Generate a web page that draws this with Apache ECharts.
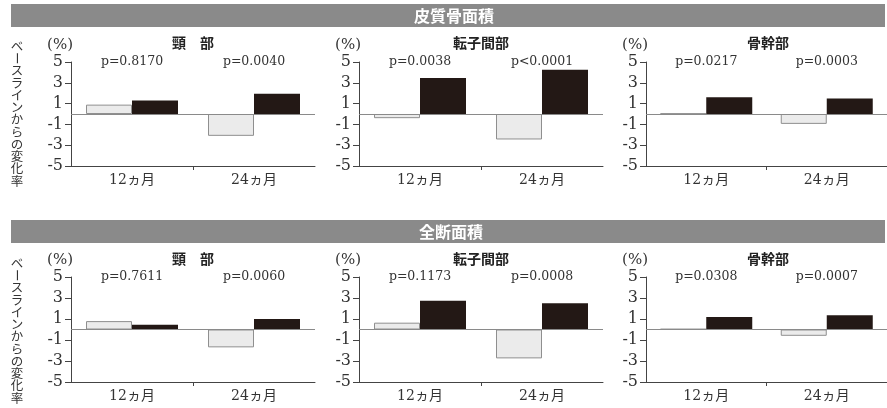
<!DOCTYPE html>
<html>
<head>
<meta charset="utf-8">
<script src="https://cdn.jsdelivr.net/npm/echarts@6/dist/echarts.min.js"></script>
<style>
  html, body { margin: 0; padding: 0; background: #fff; }
  #chart { width: 887px; height: 408px; }
</style>
</head>
<body>
<div id="chart"></div>
<script>
// Period categories and measured regions
const periods = ['12ヵ月', '24ヵ月'];
const regions = ['頸　部', '転子間部', '骨幹部'];
const sections = ['皮質骨面積', '全断面積'];

// Cortical bone area: % change from baseline, per region [12 months, 24 months]
const corticalControl = [[0.9, -2.1], [-0.4, -2.45], [0.05, -0.95]];
const corticalTreated = [[1.3, 1.95], [3.45, 4.25], [1.6, 1.5]];
const corticalPValues = [['p=0.8170', 'p=0.0040'], ['p=0.0038', 'p<0.0001'], ['p=0.0217', 'p=0.0003']];

// Total cross-sectional area: % change from baseline
const totalControl = [[0.8, -1.7], [0.65, -2.75], [0.05, -0.6]];
const totalTreated = [[0.45, 1.0], [2.75, 2.5], [1.2, 1.35]];
const totalPValues = [['p=0.7611', 'p=0.0060'], ['p=0.1173', 'p=0.0008'], ['p=0.0308', 'p=0.0007']];

// Y axis scale
const yMin = -5, yMax = 5, yStep = 2;
const yLabel = 'ベースラインからの変化率';

const controlBySection = [corticalControl, totalControl];
const treatedBySection = [corticalTreated, totalTreated];
const pBySection = [corticalPValues, totalPValues];

const chart = echarts.init(document.getElementById('chart'), null, { renderer: 'canvas' });

const serif = '"DejaVu Serif", "Noto Sans CJK JP", serif';
const cjk = '"Noto Sans CJK JP", sans-serif';
const axisColor = '#444';
const textColor = '#333';

const panelLefts = [71, 359, 646];
const panelWidth = 244;
const sectionTops = [62, 277];
const sectionHeights = [104, 105];
const headerTops = [4, 220];
const headerHeight = 23;
const headerTextCenters = [454, 451];
const titleTops = [36, 252];
const sideLabelTops = [46, 263];

const grid = [], xAxis = [], yAxis = [], series = [], title = [], graphic = [];

sections.forEach((sec, s) => {
  regions.forEach((reg, p) => {
    const i = s * 3 + p;
    grid.push({ left: panelLefts[p], top: sectionTops[s], width: panelWidth, height: sectionHeights[s], containLabel: false });

    // categories along the bottom edge
    xAxis.push({
      type: 'category', gridIndex: i, data: periods, position: 'bottom',
      axisLine: { onZero: false, lineStyle: { color: axisColor, width: 1 } },
      axisTick: { show: false },
      axisLabel: { fontSize: 14, fontFamily: serif, color: textColor, margin: 7 },
      splitLine: { show: false }
    });
    // p values across the top
    xAxis.push({
      type: 'category', gridIndex: i, data: pBySection[s][p], position: 'top',
      axisLine: { show: false }, axisTick: { show: false },
      axisLabel: { fontSize: 12.5, fontFamily: serif, color: textColor, margin: -6 },
      splitLine: { show: false }
    });
    // divider tick between the two periods
    xAxis.push({
      type: 'value', gridIndex: i, min: 0, max: 2, interval: 1, position: 'bottom',
      axisLine: { show: false, onZero: false },
      axisLabel: { show: false },
      axisTick: { show: true, customValues: [1], length: 4, lineStyle: { color: axisColor } },
      splitLine: { show: false }
    });

    yAxis.push({
      type: 'value', gridIndex: i, min: yMin, max: yMax, interval: yStep,
      name: '(%)', nameLocation: 'end', nameGap: 9,
      nameTextStyle: { fontSize: 15, fontFamily: serif, color: textColor, align: 'right', padding: [0, -2, 0, 0] },
      axisLine: { show: true, lineStyle: { color: axisColor, width: 1 } },
      axisTick: { show: true, length: 6, lineStyle: { color: axisColor } },
      axisLabel: { fontSize: 16, fontFamily: serif, color: textColor, margin: 8 },
      splitLine: { show: false }
    });

    title.push({
      text: reg, left: panelLefts[p] + panelWidth / 2, top: titleTops[s], textAlign: 'center', padding: 0,
      textStyle: { fontSize: 14, fontWeight: 'bold', fontFamily: cjk, color: '#222' }
    });

    series.push({
      type: 'bar', xAxisIndex: i * 3, yAxisIndex: i,
      data: controlBySection[s][p], barWidth: 46, barGap: '0%',
      itemStyle: { color: '#ebebeb', borderColor: '#8f8f8f', borderWidth: 1 },
      markLine: {
        silent: true, symbol: 'none', label: { show: false },
        lineStyle: { color: '#8a8a8a', width: 1, type: 'solid' },
        data: [{ yAxis: 0 }]
      }
    });
    series.push({
      type: 'bar', xAxisIndex: i * 3, yAxisIndex: i,
      data: treatedBySection[s][p], barWidth: 46, barGap: '0%',
      itemStyle: { color: '#231815' }
    });
  });

  // section header band
  graphic.push({
    type: 'rect', left: 11, top: headerTops[s], shape: { width: 874, height: headerHeight },
    style: { fill: '#8a8a8a' }, silent: true
  });
  graphic.push({
    type: 'text', x: headerTextCenters[s], y: headerTops[s] + headerHeight / 2 + 0.5, silent: true,
    style: { text: sec, fill: '#fff', font: 'bold 16px "Noto Sans CJK JP", sans-serif', align: 'center', verticalAlign: 'middle' }
  });

  // vertical axis caption, one character per line
  Array.from(yLabel).forEach((ch, k) => {
    graphic.push({
      type: 'text', x: 17, y: sideLabelTops[s] + k * 12.25,
      rotation: ch === 'ー' ? -Math.PI / 2 : 0, silent: true,
      style: { text: ch, fill: textColor, font: '12.5px "Noto Sans CJK JP", sans-serif', align: 'center', verticalAlign: 'middle' }
    });
  });
});

chart.setOption({
  animation: false,
  backgroundColor: '#fff',
  title, grid, xAxis, yAxis, series, graphic
});
</script>
</body>
</html>
